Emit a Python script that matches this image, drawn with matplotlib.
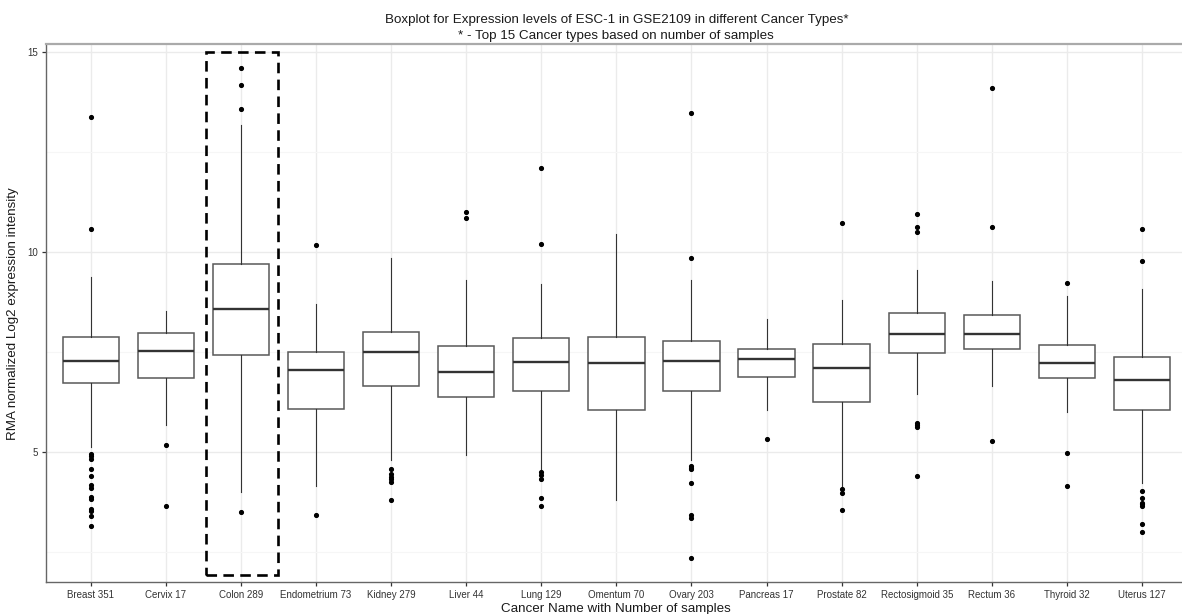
import matplotlib
matplotlib.use("Agg")
import matplotlib.pyplot as plt
from matplotlib.patches import Rectangle

plt.rcParams['font.family'] = ['Liberation Sans', 'DejaVu Sans']

categories = ["Breast 351", "Cervix 17", "Colon 289", "Endometrium 73", "Kidney 279",
              "Liver 44", "Lung 129", "Omentum 70", "Ovary 203", "Pancreas 17",
              "Prostate 82", "Rectosigmoid 35", "Rectum 36", "Thyroid 32", "Uterus 127"]

q1 = [6.72, 6.85, 7.41, 6.08, 6.65, 6.37, 6.51, 6.04, 6.51, 6.87, 6.24, 7.46, 7.56, 6.85, 6.04]
med = [7.28, 7.52, 8.57, 7.05, 7.49, 6.99, 7.25, 7.23, 7.28, 7.31, 7.10, 7.94, 7.94, 7.23, 6.80]
q3 = [7.87, 7.96, 9.71, 7.50, 8.00, 7.64, 7.85, 7.87, 7.77, 7.56, 7.70, 8.47, 8.42, 7.66, 7.37]
whislo = [5.12, 5.68, 3.99, 4.13, 4.78, 4.91, 4.57, 3.80, 4.78, 6.05, 4.11, 6.44, 6.65, 5.99, 4.22]
whishi = [9.38, 8.52, 13.18, 8.71, 9.86, 9.31, 9.19, 10.44, 9.31, 8.33, 8.79, 9.54, 9.28, 8.89, 9.07]
outliers = [
    [13.39, 10.57, 4.95, 4.89, 4.82, 4.57, 4.39, 4.16, 4.09, 3.86, 3.82, 3.57, 3.51, 3.40, 3.15],
    [5.16, 3.65],
    [14.60, 14.18, 13.58, 3.49],
    [10.17, 3.41],
    [4.57, 4.45, 4.36, 4.31, 4.24, 3.78],
    [10.99, 10.86],
    [12.10, 10.20, 4.49, 4.42, 4.31, 3.84, 3.63],
    [],
    [13.47, 9.84, 4.64, 4.60, 4.56, 4.21, 3.42, 3.34, 2.34],
    [5.31],
    [10.73, 4.07, 3.96, 3.54],
    [10.94, 10.63, 10.49, 5.73, 5.68, 5.62, 4.39],
    [14.10, 10.62, 5.26],
    [9.23, 4.97, 4.14],
    [10.57, 9.78, 4.01, 3.84, 3.72, 3.68, 3.64, 3.18, 3.00],
]

yticks = [5, 10, 15]
title = ("Boxplot for Expression levels of ESC-1 in GSE2109 in different Cancer Types*\n"
         "* - Top 15 Cancer types based on number of samples")
xlabel = "Cancer Name with Number of samples"
ylabel = "RMA normalized Log2 expression intensity"
highlight = "Colon 289"

W, H = 1182, 614
fig = plt.figure(figsize=(W / 100, H / 100), dpi=100)
left, right, top, bottom = 45.7, 1187.0, 44.3, 582.3
ax = fig.add_axes([left / W, (H - bottom) / H, (right - left) / W, (bottom - top) / H])

stats = []
for i, c in enumerate(categories):
    stats.append(dict(label=c, q1=q1[i], med=med[i], q3=q3[i],
                      whislo=whislo[i], whishi=whishi[i], fliers=outliers[i]))

pos = list(range(len(categories)))
ax.bxp(stats, positions=pos, widths=0.75, patch_artist=True, zorder=3,
       boxprops=dict(facecolor='white', edgecolor='#595959', linewidth=1.1),
       medianprops=dict(color='#333333', linewidth=1.7),
       whiskerprops=dict(color='#333333', linewidth=0.8),
       capprops=dict(linewidth=0),
       flierprops=dict(marker='o', markerfacecolor='black', markeredgecolor='black',
                       markersize=2.7, linestyle='none'))

hi = categories.index(highlight)
ax.add_patch(Rectangle((hi - 0.465, 1.91), 0.955, 15.0 - 1.91, fill=False,
                       edgecolor='black', linewidth=1.9, linestyle=(0, (4, 2.4)),
                       zorder=5, clip_on=False))

ax.set_xlim(-0.6, len(categories) - 0.4)
ax.set_ylim(1.73, 15.2)
ax.set_xticks(pos)
ax.set_xticklabels(categories)
ax.set_yticks(yticks)
ax.set_yticks([2.5, 7.5, 12.5], minor=True)

ax.grid(True, which='major', color='#EBEBEB', linewidth=1.0, zorder=0)
ax.grid(True, which='minor', axis='y', color='#F6F6F6', linewidth=0.8, zorder=0)
ax.set_axisbelow(True)

ax.tick_params(axis='both', which='major', length=3, width=0.9, color='#333333',
               labelsize=7, labelcolor='#333333', pad=2.5)
ax.tick_params(axis='y', which='minor', length=0)

for s in ['left', 'bottom']:
    ax.spines[s].set_color('#666666')
    ax.spines[s].set_linewidth(1.0)
ax.spines['top'].set_color('#AAAAAA')
ax.spines['top'].set_linewidth(1.6)
ax.spines['right'].set_color('#AAAAAA')

ax.set_title(title, fontsize=9.6, color='#1a1a1a', pad=4, linespacing=1.45)
ax.set_xlabel(xlabel, fontsize=9.6, color='#1a1a1a', labelpad=2)
ax.set_ylabel(ylabel, fontsize=9.6, color='#1a1a1a', labelpad=6)

fig.savefig("out.png", dpi=100)
